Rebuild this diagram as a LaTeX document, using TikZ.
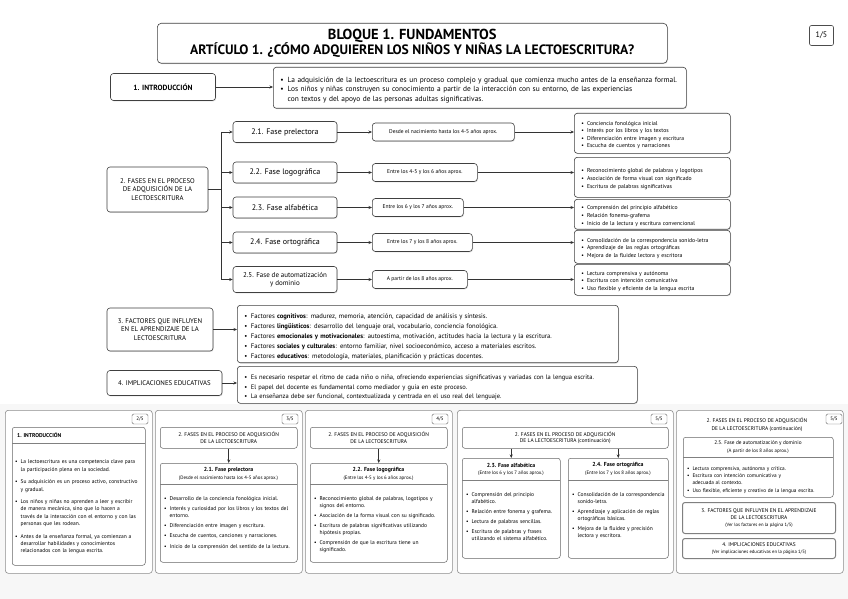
\documentclass[tikz,border=0pt]{standalone}
\usepackage{fontspec}
\setmainfont{PT Sans}
\usetikzlibrary{arrows.meta,shadows}
\newcommand\fsz[2]{\fontsize{#1}{#2}\selectfont}
\newcommand\itm{\par\noindent\makebox[1em][l]{\textbullet}}
\newcommand\cnt{\newline\hspace*{1em}}
\hyphenpenalty=10000 \exhyphenpenalty=10000
\tikzset{
  bx/.style={draw=black!75, line width=0.6pt, rounded corners=3pt, fill=white, align=center, inner sep=2pt,
    drop shadow={opacity=0.25, shadow xshift=0.7pt, shadow yshift=-0.9pt}},
  blist/.style={bx, align=left, inner xsep=7pt, inner ysep=3pt, anchor=north west},
  tagbox/.style={draw=black!70, line width=0.6pt, rounded corners=2pt, fill=white, minimum width=24, minimum height=20, font=\fsz{8}{9}},
  stag/.style={draw=black!60, line width=0.4pt, rounded corners=1.5pt, fill=white, minimum width=16, minimum height=10, inner sep=0pt, font=\fsz{5}{6}},
  phase/.style={bx, minimum width=104, minimum height=21, font=\fsz{8}{9.5}},
  age/.style={bx, anchor=west, minimum height=18, font=\fsz{5.5}{6.5}, inner xsep=5pt},
  rbox/.style={blist, text width=142, font=\fsz{5.7}{7.6}},
  arr/.style={-{Stealth[length=3.5pt,width=3pt]}, line width=0.55pt, draw=black!80},
  panel/.style={draw=black!45, line width=0.6pt, rounded corners=3pt, fill=white, anchor=north west},
  ibox/.style={draw=black!60, line width=0.5pt, rounded corners=2.5pt, fill=white, anchor=north west, inner sep=0pt},
  ptxt/.style={anchor=north west, align=left, inner sep=0pt, font=\fsz{5.5}{6.8}\setlength\parskip{3.4pt}},
  divl/.style={draw=black!50, line width=0.4pt}
}
\begin{document}
\begin{tikzpicture}[x=1pt,y=-1pt]
\useasboundingbox (0,0) rectangle (848,599);
\fill[white] (0,0) rectangle (848,599);
\fill[gray!6] (0,404) rectangle (848,599);

% ---------- Title ----------
\node[bx, anchor=north west, minimum width=510, minimum height=40, rounded corners=4pt, inner sep=1pt] (title) at (157,23)
  {{\fsz{14.5}{15}\bfseries BLOQUE 1. FUNDAMENTOS}\\[0pt]{\fsz{13.6}{14}\bfseries ARTÍCULO 1. ¿CÓMO ADQUIEREN LOS NIÑOS Y NIÑAS LA LECTOESCRITURA?}};
\node[tagbox] (pg1) at (821.5,35.5) {1/5};

% ---------- 1. Introducción ----------
\node[bx, minimum width=105, minimum height=27, font=\fsz{7.5}{9}\bfseries] (s1) at (163,87) {1. INTRODUCCIÓN};
\node[blist, text width=399, minimum height=41, font=\fsz{7.4}{9.8}] (s1b) at (273,67) {%
\itm La adquisición de la lectoescritura es un proceso complejo y gradual que comienza mucho antes de la enseñanza formal.
\itm Los niños y niñas construyen su conocimiento a partir de la interacción con su entorno, de las experiencias\cnt con textos y del apoyo de las personas adultas significativas.};
\draw[arr] (s1.east) -- (s1.east -| s1b.west);

% ---------- 2. Fases ----------
\node[bx, minimum width=101, minimum height=45, font=\fsz{6.8}{8.4}] (s2) at (157.5,189.5)
  {2. FASES EN EL PROCESO\\DE ADQUISICIÓN DE LA\\LECTOESCRITURA};
\coordinate (tr) at (221,0);

\node[phase] (p21) at (285,132) {2.1. Fase prelectora};
\node[phase] (p22) at (285,172.5) {2.2. Fase logográfica};
\node[phase] (p23) at (285,207.5) {2.3. Fase alfabética};
\node[phase] (p24) at (285,242.5) {2.4. Fase ortográfica};
\node[phase, minimum height=26, font=\fsz{7}{8.5}] (p25) at (285,279.5) {2.5. Fase de automatización\\y dominio};

\draw[line width=0.55pt, black!80] (s2.east) -- (s2.east -| tr);
\draw[line width=0.55pt, black!80] (p21.west -| tr) -- (p25.west -| tr);
\foreach \p in {p21,p22,p23,p24,p25} \draw[arr] (\p.west -| tr) -- (\p.west);

\node[age, minimum width=142] (a21) at (372,132) {Desde el nacimiento hasta los 4-5 años aprox.};
\node[age, minimum width=105] (a22) at (372,172.5) {Entre los 4-5 y los 6 años aprox.};
\node[age, minimum width=91] (a23) at (372,207.5) {Entre los 6 y los 7 años aprox.};
\node[age, minimum width=100] (a24) at (372,242.5) {Entre los 7 y los 8 años aprox.};
\node[age, minimum width=95] (a25) at (372,279.5) {A partir de los 8 años aprox.};
\foreach \p/\a in {p21/a21,p22/a22,p23/a23,p24/a24,p25/a25} \draw[arr] (\p.east) -- (\a.west);

\node[rbox, minimum height=40] (r21) at (574,113) {%
\itm Conciencia fonológica inicial
\itm Interés por los libros y los textos
\itm Diferenciación entre imagen y escritura
\itm Escucha de cuentos y narraciones};
\node[rbox, minimum height=40] (r22) at (574,157) {%
\itm Reconocimiento global de palabras y logotipos
\itm Asociación de forma visual con significado
\itm Escritura de palabras significativas};
\node[rbox, minimum height=29] (r23) at (574,199) {%
\itm Comprensión del principio alfabético
\itm Relación fonema-grafema
\itm Inicio de la lectura y escritura convencional};
\node[rbox, minimum height=33] (r24) at (574,230) {%
\itm Consolidación de la correspondencia sonido-letra
\itm Aprendizaje de las reglas ortográficas
\itm Mejora de la fluidez lectora y escritora};
\node[rbox, minimum height=31] (r25) at (574,264) {%
\itm Lectura comprensiva y autónoma
\itm Escritura con intención comunicativa
\itm Uso flexible y eficiente de la lengua escrita};
\foreach \a/\r in {a21/r21,a22/r22,a23/r23,a24/r24,a25/r25} \draw[arr] (\a.east) -- (\a.east -| \r.west);

% ---------- 3. Factores ----------
\node[bx, minimum width=106, minimum height=43, font=\fsz{6.8}{8.4}] (s3) at (160,329.5)
  {3. FACTORES QUE INFLUYEN\\EN EL APRENDIZAJE DE LA\\LECTOESCRITURA};
\node[blist, text width=367, minimum height=55, font=\fsz{6.65}{10}] (s3b) at (237,305) {%
\itm Factores \textbf{cognitivos}: madurez, memoria, atención, capacidad de análisis y síntesis.
\itm Factores \textbf{lingüísticos}: desarrollo del lenguaje oral, vocabulario, conciencia fonológica.
\itm Factores \textbf{emocionales y motivacionales}: autoestima, motivación, actitudes hacia la lectura y la escritura.
\itm Factores \textbf{sociales y culturales}: entorno familiar, nivel socioeconómico, acceso a materiales escritos.
\itm Factores \textbf{educativos}: metodología, materiales, planificación y prácticas docentes.};
\draw[arr] (s3.east) -- (s3.east -| s3b.west);

% ---------- 4. Implicaciones ----------
\node[bx, minimum width=115, minimum height=25, font=\fsz{6.8}{8.4}] (s4) at (164.5,383) {4. IMPLICACIONES EDUCATIVAS};
\node[blist, text width=386, minimum height=37, font=\fsz{6.5}{9.8}] (s4b) at (237,366) {%
\itm Es necesario respetar el ritmo de cada niño o niña, ofreciendo experiencias significativas y variadas con la lengua escrita.
\itm El papel del docente es fundamental como mediador y guía en este proceso.
\itm La enseñanza debe ser funcional, contextualizada y centrada en el uso real del lenguaje.};
\draw[arr] (s4.east) -- (s4.east -| s4b.west);

% ---------- Bottom panels ----------
% Panel 2/5
\node[panel, minimum width=147, minimum height=163] (P1) at (5,410) {};
\node[stag] (t1) at (140,419) {2/5};
\node[ibox, minimum width=133, minimum height=138] (b1) at (12,427) {};
\node[anchor=west, inner sep=0pt, font=\fsz{5.6}{6.5}\bfseries] (h1) at (17,435) {1. INTRODUCCIÓN};
\draw[divl] (12,443) -- (145,443);
\node[ptxt, text width=132, font=\fsz{5.5}{7.2}\setlength\parskip{5.5pt}] (x1) at (15,451) {%
\itm La lectoescritura es una competencia clave para\cnt la participación plena en la sociedad.
\itm Su adquisición es un proceso activo, constructivo\cnt y gradual.
\itm Los niños y niñas no aprenden a leer y escribir\cnt de manera mecánica, sino que lo hacen a\cnt través de la interacción con el entorno y con las\cnt personas que les rodean.
\itm Antes de la enseñanza formal, ya comienzan a\cnt desarrollar habilidades y conocimientos\cnt relacionados con la lengua escrita.};

% Panel 3/5
\node[panel, minimum width=147, minimum height=163] (P2) at (155,410) {};
\node[stag] (t2) at (290,419) {3/5};
\node[ibox, minimum width=137, minimum height=21, font=\fsz{5.4}{6.8}, align=center] (h2) at (160,427) {2. FASES EN EL PROCESO DE ADQUISICIÓN\\DE LA LECTOESCRITURA};
\node[ibox, minimum width=137, minimum height=99] (c2) at (160,463) {};
\draw[arr] (h2.south) -- (c2.north);
\node[inner sep=0pt, font=\fsz{5.8}{6.5}\bfseries] (n2) at (228.5,470) {2.1. Fase prelectora};
\node[inner sep=0pt, font=\fsz{4.9}{6}] (m2) at (228.5,478) {(Desde el nacimiento hasta los 4-5 años aprox.)};
\draw[divl] (160,484) -- (297,484);
\node[ptxt, text width=135] (x2) at (164,490) {%
\itm Desarrollo de la conciencia fonológica inicial.
\itm Interés y curiosidad por los libros y los textos del\cnt entorno.
\itm Diferenciación entre imagen y escritura.
\itm Escucha de cuentos, canciones y narraciones.
\itm Inicio de la comprensión del sentido de la lectura.};

% Panel 4/5
\node[panel, minimum width=147, minimum height=163] (P3) at (305,410) {};
\node[stag] (t3) at (440,419) {4/5};
\node[ibox, minimum width=137, minimum height=21, font=\fsz{5.4}{6.8}, align=center] (h3) at (310,427) {2. FASES EN EL PROCESO DE ADQUISICIÓN\\DE LA LECTOESCRITURA};
\node[ibox, minimum width=137, minimum height=99] (c3) at (310,463) {};
\draw[arr] (h3.south) -- (c3.north);
\node[inner sep=0pt, font=\fsz{5.8}{6.5}\bfseries] (n3) at (378.5,470) {2.2. Fase logográfica};
\node[inner sep=0pt, font=\fsz{4.9}{6}] (m3) at (378.5,478) {(Entre los 4-5 y los 6 años aprox.)};
\draw[divl] (310,484) -- (447,484);
\node[ptxt, text width=135] (x3) at (314,490) {%
\itm Reconocimiento global de palabras, logotipos y\cnt signos del entorno.
\itm Asociación de la forma visual con su significado.
\itm Escritura de palabras significativas utilizando\cnt hipótesis propias.
\itm Comprensión de que la escritura tiene un\cnt significado.};

% Panel 5/5 (a)
\node[panel, minimum width=216, minimum height=163] (P4) at (457,410) {};
\node[stag] (t4) at (659,419) {5/5};
\node[ibox, minimum width=206, minimum height=21, font=\fsz{5.4}{6.8}, align=center] (h4) at (462,427) {2. FASES EN EL PROCESO DE ADQUISICIÓN\\DE LA LECTOESCRITURA (continuación)};
\node[ibox, minimum width=98, minimum height=100] (c4a) at (462,458) {};
\node[ibox, minimum width=100, minimum height=100] (c4b) at (568,458) {};
\draw[arr] (h4.south -| c4a.north) -- (c4a.north);
\draw[arr] (h4.south -| c4b.north) -- (c4b.north);
\node[inner sep=0pt, font=\fsz{5.8}{6.5}\bfseries] (n4a) at (511,465) {2.3. Fase alfabética};
\node[inner sep=0pt, font=\fsz{4.9}{6}] (m4a) at (511,473.5) {(Entre los 6 y los 7 años aprox.)};
\draw[divl] (462,480) -- (560,480);
\node[ptxt, text width=94] (x4a) at (466,486) {%
\itm Comprensión del principio\cnt alfabético.
\itm Relación entre fonema y grafema.
\itm Lectura de palabras sencillas.
\itm Escritura de palabras y frases\cnt utilizando el sistema alfabético.};
\node[inner sep=0pt, font=\fsz{5.8}{6.5}\bfseries] (n4b) at (618,465) {2.4. Fase ortográfica};
\node[inner sep=0pt, font=\fsz{4.9}{6}] (m4b) at (618,473.5) {(Entre los 7 y los 8 años aprox.)};
\draw[divl] (568,480) -- (668,480);
\node[ptxt, text width=96] (x4b) at (572,486) {%
\itm Consolidación de la correspondencia\cnt sonido-letra.
\itm Aprendizaje y aplicación de reglas\cnt ortográficas básicas.
\itm Mejora de la fluidez y precisión\cnt lectora y escritora.};

% Panel 5/5 (b)
\node[panel, minimum width=167, minimum height=163] (P5) at (676,410) {};
\node[stag] (t5) at (834,419) {5/5};
\node[inner sep=0pt, align=center, font=\fsz{5.4}{7.5}] (h5) at (757,424.5) {2. FASES EN EL PROCESO DE ADQUISICIÓN\\DE LA LECTOESCRITURA (continuación)};
\node[ibox, minimum width=150, minimum height=60] (c5) at (683,437) {};
\node[inner sep=0pt, font=\fsz{5.3}{6.5}] (n5) at (758,443.5) {2.5. Fase de automatización y dominio};
\node[inner sep=0pt, font=\fsz{4.9}{6}] (m5) at (758,451) {(A partir de los 8 años aprox.)};
\draw[divl] (683,457) -- (833,457);
\node[ptxt, text width=145, font=\fsz{5.3}{6.6}\setlength\parskip{1.2pt}] (x5) at (687,462) {%
\itm Lectura comprensiva, autónoma y crítica.
\itm Escritura con intención comunicativa y\cnt adecuada al contexto.
\itm Uso flexible, eficiente y creativo de la lengua escrita.};
\node[ibox, minimum width=153, minimum height=31, line width=1pt, draw=black!50, align=center, font=\fsz{5.4}{7}] (f3) at (682,502)
  {3. FACTORES QUE INFLUYEN EN EL APRENDIZAJE\\DE LA LECTOESCRITURA\\{\fsz{4.7}{6}(Ver los factores en la página 1/5)}};
\node[ibox, minimum width=153, minimum height=20, line width=1pt, draw=black!50, align=center, font=\fsz{5.4}{7}] (f4) at (682,538)
  {4. IMPLICACIONES EDUCATIVAS\\{\fsz{4.7}{6}(Ver implicaciones educativas en la página 1/5)}};
\end{tikzpicture}
\end{document}
